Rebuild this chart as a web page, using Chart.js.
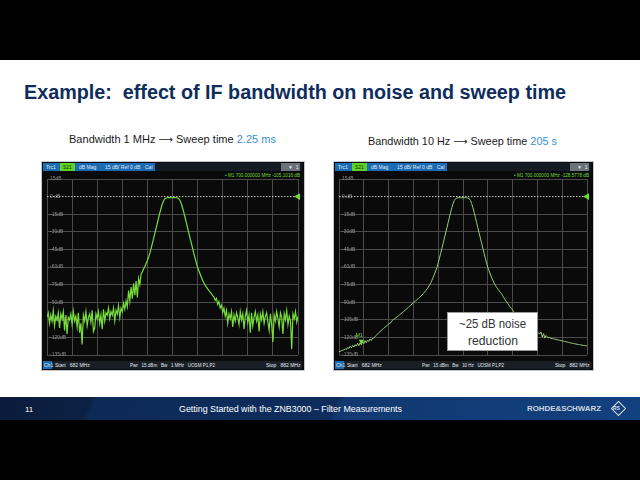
<!DOCTYPE html>
<html>
<head>
<meta charset="utf-8">
<script src="https://cdn.jsdelivr.net/npm/chart.js@4.4.0/dist/chart.umd.min.js"></script>
<style>
  html, body { margin: 0; padding: 0; background: #000; }
  #slide { position: relative; width: 640px; height: 480px; overflow: hidden; background: #000;
           font-family: "Liberation Sans", Arial, sans-serif; }
  .t { position: absolute; white-space: nowrap; transform-origin: left center; }
  .page { position: absolute; left: 0; top: 60px; width: 640px; height: 338px; background: #fff; }
  .footer { position: absolute; left: 0; top: 397px; width: 640px; height: 23px;
            background: linear-gradient(112deg, #0a1b3a 0%, #0b2144 14%, #0d2a56 15%, #0e2d5d 52%, #11386f 53%, #124180 100%); }
  .frame { position: absolute; background: #0a0a0a; border: 1px solid #c4c8cc; }
  .box { position: absolute; }
  .tiny { font-size: 5px; line-height: 5px; color: #e4e9ef; }
  .arr { font-family: "DejaVu Sans", sans-serif; font-size: 10px; }
  canvas { position: absolute; }
</style>
</head>
<body>
<div id="slide">
  <div class="page"></div>

  <div class="t" data-w="542" style="left:24px;top:81px;font-size:20px;line-height:22px;font-weight:bold;color:#0e2d5c;">Example:&nbsp; effect of IF bandwidth on noise and sweep time</div>
  <div class="t" data-w="207" style="left:69px;top:133px;font-size:11px;line-height:12px;color:#1a1a1a;">Bandwidth 1 MHz <span class="arr">⟶</span> Sweep time <span style="color:#3b8fd3">2.25 ms</span></div>
  <div class="t" data-w="189" style="left:368px;top:135px;font-size:11px;line-height:12px;color:#1a1a1a;">Bandwidth 10 Hz <span class="arr">⟶</span> Sweep time <span style="color:#3b8fd3">205 s</span></div>

  <div id="screens"></div>

  <div class="box" style="left:447px;top:312px;width:91px;height:39px;background:#fff;border:1px solid #9a9a9a;box-sizing:border-box;z-index:5;"></div>
  <div class="t" data-w="67" style="left:459px;top:316px;font-size:13px;line-height:15px;color:#333;z-index:6;">~25 dB noise</div>
  <div class="t" data-w="50" style="left:468px;top:333px;font-size:13px;line-height:15px;color:#333;z-index:6;">reduction</div>

  <div class="footer"></div>
  <div class="t" style="left:25px;top:405px;font-size:8px;line-height:9px;color:#fff;">11</div>
  <div class="t" data-w="223" style="left:179px;top:404px;font-size:9px;line-height:10px;color:#fff;">Getting Started with the ZNB3000 – Filter Measurements</div>
  <div class="t" data-w="74" style="left:527px;top:405px;font-size:7px;line-height:8px;font-weight:bold;color:#cdd5df;">ROHDE&amp;SCHWARZ</div>
  <div class="box" style="left:613px;top:403px;width:9px;height:9px;border:1.5px solid #d7dee7;transform:rotate(45deg);"></div>
  <div class="t" style="left:613px;top:406px;font-size:5px;line-height:5px;font-weight:bold;color:#d7dee7;">RS</div>
</div>

<script>
// frequency axis of both traces, MHz
const freqMHz = [
  682, 683, 684, 685, 686, 687, 688, 689, 690, 691,
  692, 693, 694, 695, 696, 697, 698, 699, 700, 701,
  702, 703, 704, 705, 706, 707, 708, 709, 710, 711,
  712, 713, 714, 715, 716, 717, 718, 719, 720, 721,
  722, 723, 724, 725, 726, 727, 728, 729, 730, 731,
  732, 733, 734, 735, 736, 737, 738, 739, 740, 741,
  742, 743, 744, 745, 746, 747, 748, 749, 750, 751,
  752, 753, 754, 755, 756, 757, 758, 759, 760, 761,
  762, 763, 764, 765, 766, 767, 768, 769, 770, 771,
  772, 773, 774, 775, 776, 777, 778, 779, 780, 781,
  782, 783, 784, 785, 786, 787, 788, 789, 790, 791,
  792, 793, 794, 795, 796, 797, 798, 799, 800, 801,
  802, 803, 804, 805, 806, 807, 808, 809, 810, 811,
  812, 813, 814, 815, 816, 817, 818, 819, 820, 821,
  822, 823, 824, 825, 826, 827, 828, 829, 830, 831,
  832, 833, 834, 835, 836, 837, 838, 839, 840, 841,
  842, 843, 844, 845, 846, 847, 848, 849, 850, 851,
  852, 853, 854, 855, 856, 857, 858, 859, 860, 861,
  862, 863, 864, 865, 866, 867, 868, 869, 870, 871,
  872, 873, 874, 875, 876, 877, 878, 879, 880, 881,
  882
];

// S21 in dB with IF bandwidth 1 MHz (noisy)
const s21Bw1MHz = [
  -103, -99, -108, -101, -106, -97, -110, -102, -105, -99,
  -112, -100, -104, -98, -114, -101, -117, -103, -105.1, -100,
  -109, -98, -106, -102, -111, -99, -116, -108, -126, -101,
  -106, -98, -110, -103, -100, -107, -97, -115, -112, -100,
  -104, -98, -108, -101, -113, -96, -106, -99, -101, -95,
  -104, -98, -101, -95, -106, -97, -100, -93, -103, -95,
  -98, -91, -96, -89, -94, -80, -89, -77, -87, -74,
  -84, -72, -86, -70, -75, -66, -64, -61.5, -59.5, -57,
  -54.5, -51.5, -48, -44, -39.7, -35.4, -31, -26.6, -22.2, -17.8,
  -13.5, -9.5, -6, -3.3, -1.8, -1.2, -1.0, -0.9, -0.9, -1.0,
  -1.0, -0.9, -0.9, -1.0, -1.2, -1.8, -3.3, -6, -9.5, -13.5,
  -17.8, -22.2, -26.6, -31, -35.4, -39.7, -44, -48.3, -52.5, -56.5,
  -60.4, -63.2, -66, -68.7, -71.2, -73.5, -75.5, -77.2, -78.7, -80.1,
  -81.4, -82.6, -84.5, -85.5, -88.5, -86.8, -92, -89.5, -95, -92.5,
  -99, -95, -102, -97, -108, -100, -104, -98, -111, -101,
  -106, -99, -103, -109, -98, -105, -100, -113, -102, -97,
  -107, -101, -116, -99, -110, -103, -98, -106, -101, -115,
  -100, -105, -98, -108, -102, -99, -107, -114, -100, -109,
  -124, -101, -106, -98, -104, -111, -99, -103, -117, -100,
  -105, -97, -109, -102, -106, -130, -100, -104, -98, -107,
  -102
];

// S21 in dB with IF bandwidth 10 Hz
const s21Bw10Hz = [
  -132.2, -131.7, -131.4, -130.8, -130.6, -129.8, -130.2, -128.6, -129.4, -127.5,
  -128.8, -126.9, -128.1, -126.2, -127.4, -125.1, -127, -124.6, -126.3, -123.5,
  -125.4, -122.8, -124.6, -122.3, -123.5, -121.4, -122.6, -120.8, -120.5, -119.5,
  -118.3, -117.2, -116.1, -115.1, -114.1, -113.2, -112.3, -111.4, -110.5, -109.6,
  -108.8, -108, -107.4, -105.4, -104.6, -103.9, -103.1, -102.3, -101.5, -100.6,
  -99.8, -98.9, -98, -97.1, -96.2, -95.3, -94.3, -93.3, -92.3, -91.3,
  -90.3, -89.5, -88.7, -87.8, -86.9, -85.9, -84.9, -83.8, -82.6, -81.4,
  -80.1, -78.7, -77.2, -75.5, -73.5, -71.2, -68.7, -66, -63.2, -60.4,
  -56.5, -52.5, -48.3, -44, -39.7, -35.4, -31, -26.6, -22.2, -17.8,
  -13.5, -9.5, -6, -3.3, -1.8, -1.2, -1.0, -0.9, -0.9, -1.0,
  -1.0, -0.9, -0.9, -1.0, -1.2, -1.8, -3.3, -6, -9.5, -13.5,
  -17.8, -22.2, -26.6, -31, -35.4, -39.7, -44, -48.3, -52.5, -56.5,
  -60.4, -63.2, -66, -68.7, -71.2, -73.5, -75.5, -77.2, -78.7, -80.1,
  -81.4, -82.6, -84.6, -86.2, -88, -89.5, -91, -92.5, -94, -95.4,
  -96.8, -98.1, -99.4, -100.6, -101.8, -102.9, -104, -105, -106, -107,
  -107.9, -108.8, -109.7, -110.5, -111.3, -112.1, -112.9, -113.6, -114.3, -115,
  -115.7, -116.3, -116.9, -115.5, -119.8, -116.8, -120.6, -118.4, -119.5, -120.6,
  -119.9, -120.8, -121, -121.2, -121.5, -121.7, -122, -122.2, -122.5, -122.7,
  -123, -123.2, -123.5, -123.7, -124, -124.2, -124.5, -124.7, -125, -125.2,
  -125.4, -125.6, -125.8, -126, -126.2, -126.4, -126.6, -126.8, -127, -127.1,
  -127.3
];

// reference line (Ref 0 dB) and marker M1
const refX = [682, 882];
const refY = [0, 0];
const markerX = [700];
const markerY = [-123.3];

// y axis: 15 dB/div, Ref 0 dB
const yTickLabels = ['-135dB', '-120dB', '-105dB', '-90dB', '-75dB', '-60dB', '-45dB', '-30dB', '-15dB', '0 dB', '15dB'];

// screen chrome (header / status texts)
const screens = [
  { id: 'left',  dx: 0,   plotW: 259, bw: '1 MHz', readout: '• M1  700.000000  MHz  -105.1016  dB',
    trace: s21Bw1MHz, color: '#78dd3c', width: 1.2, marker: false },
  { id: 'right', dx: 292, plotW: 256, bw: '10 Hz', readout: '• M1  700.000000  MHz  -128.5778  dB',
    trace: s21Bw10Hz, color: '#9ccc78', width: 1, marker: true }
];

const holder = document.getElementById('screens');
screens.forEach(s => {
  const d = s.dx;
  holder.insertAdjacentHTML('beforeend', `
    <div class="frame" style="left:${41 + d}px;top:161px;width:${s.plotW + 3}px;height:208px;"></div>
    <div class="box" style="left:${43 + d}px;top:163px;width:${s.plotW}px;height:8px;background:#141b24;"></div>
    <div class="box" style="left:${43 + d}px;top:163px;width:112px;height:8px;background:#1b6cb3;"></div>
    <div class="box" style="left:${60 + d}px;top:163px;width:15px;height:8px;background:#5fd226;"></div>
    <div class="box" style="left:${s.plotW + 22 + d}px;top:163px;width:19px;height:8px;background:#6c727a;"></div>
    <div class="t tiny" style="left:${46 + d}px;top:164.5px;">Trc1</div>
    <div class="t tiny" style="left:${63 + d}px;top:164.5px;color:#17340a;">S21</div>
    <div class="t tiny" style="left:${79 + d}px;top:164.5px;">dB Mag</div>
    <div class="t tiny" style="left:${105 + d}px;top:164.5px;">15 dB/ Ref 0 dB</div>
    <div class="t tiny" style="left:${145 + d}px;top:164.5px;">Cal</div>
    <div class="t tiny" style="left:${s.plotW + 29 + d}px;top:164.5px;">▼&nbsp; 1</div>
    <div class="t tiny" data-w="75" style="left:${s.plotW - 34 + d}px;top:173px;color:#6ddc35;">${s.readout}</div>
    <div class="box" style="left:${43 + d}px;top:361px;width:${s.plotW}px;height:8px;background:#1a1f26;"></div>
    <div class="box" style="left:${43 + d}px;top:361px;width:9px;height:8px;background:#1b6cb3;"></div>
    <div class="t tiny" style="left:${44 + d}px;top:362.5px;">Ch1</div>
    <div class="t tiny" style="left:${55 + d}px;top:362.5px;">Start&nbsp;&nbsp; 682 MHz</div>
    <div class="t tiny" data-w="${s.id === 'left' ? 85 : 82}" style="left:${130 + d}px;top:362.5px;">Pwr&nbsp;&nbsp; 15 dBm&nbsp;&nbsp; Bw&nbsp;&nbsp; ${s.bw}&nbsp;&nbsp; UOSM P1,P2</div>
    <div class="t tiny" style="left:${s.plotW + 7 + d}px;top:362.5px;">Stop&nbsp;&nbsp; 882 MHz</div>
    <canvas id="c_${s.id}" width="${s.plotW}" height="188" style="left:${43 + d}px;top:173px;width:${s.plotW}px;height:188px;"></canvas>
  `);
});

// fit condensed slide fonts to the measured widths
document.querySelectorAll('[data-w]').forEach(el => {
  const w = parseFloat(el.dataset.w);
  const now = el.getBoundingClientRect().width;
  if (now > 0) el.style.transform = `scaleX(${w / now})`;
});

// draws "M1" above the marker triangle
const markerLabel = {
  id: 'markerLabel',
  afterDatasetsDraw(chart) {
    chart.data.datasets.forEach((ds, i) => {
      if (!ds.markerName) return;
      const p = chart.getDatasetMeta(i).data[0];
      const c = chart.ctx;
      c.save();
      c.fillStyle = '#7be03f';
      c.font = '5px "Liberation Sans", Arial, sans-serif';
      c.textAlign = 'center';
      c.fillText(ds.markerName, p.x - 2, p.y - 4);
      c.restore();
    });
  }
};

function makeChart(s) {
  const ctx = document.getElementById('c_' + s.id);
  const datasets = [
    {
      data: freqMHz.map((f, i) => ({ x: f, y: s.trace[i] })),
      borderColor: s.color,
      borderWidth: s.width,
      pointRadius: 0,
      tension: 0,
      order: 1
    },
    {
      data: refX.map((x, i) => ({ x: x, y: refY[i] })),
      borderColor: '#c9c9c9',
      borderWidth: 1,
      borderDash: [1.5, 1.5],
      pointRadius: [0, 4],
      pointStyle: 'triangle',
      rotation: -90,
      pointBackgroundColor: '#6ddc35',
      pointBorderWidth: 0,
      clip: false,
      order: 2
    }
  ];
  if (s.marker) {
    datasets.push({
      data: markerX.map((x, i) => ({ x: x, y: markerY[i] })),
      showLine: false,
      pointStyle: 'triangle',
      rotation: 180,
      pointRadius: 3,
      pointBackgroundColor: '#7be03f',
      pointBorderWidth: 0,
      markerName: 'M1',
      order: 0
    });
  }
  new Chart(ctx, {
    type: 'line',
    data: { datasets: datasets },
    plugins: [markerLabel],
    options: {
      responsive: false,
      animation: false,
      layout: { padding: 0 },
      plugins: { legend: { display: false }, tooltip: { enabled: false } },
      scales: {
        x: {
          type: 'linear',
          min: 682,
          max: 882,
          ticks: { stepSize: 20, display: false },
          grid: { color: '#4b4b4b', drawTicks: false, lineWidth: 1 },
          border: { display: false },
          afterFit: sc => { sc.height = 0; }
        },
        y: {
          min: -135,
          max: 15,
          ticks: {
            stepSize: 15,
            mirror: true,
            padding: 3,
            color: '#8f8f8f',
            font: { size: 5, family: '"Liberation Sans", Arial, sans-serif' },
            callback: (v, i) => yTickLabels[i]
          },
          grid: {
            color: c => (c.tick && c.tick.value === 0) ? 'rgba(0,0,0,0)' : '#4b4b4b',
            drawTicks: false,
            lineWidth: 1
          },
          border: { display: false },
          afterFit: sc => { sc.width = 0; }
        }
      }
    }
  });
}

screens.forEach(makeChart);
</script>
</body>
</html>
